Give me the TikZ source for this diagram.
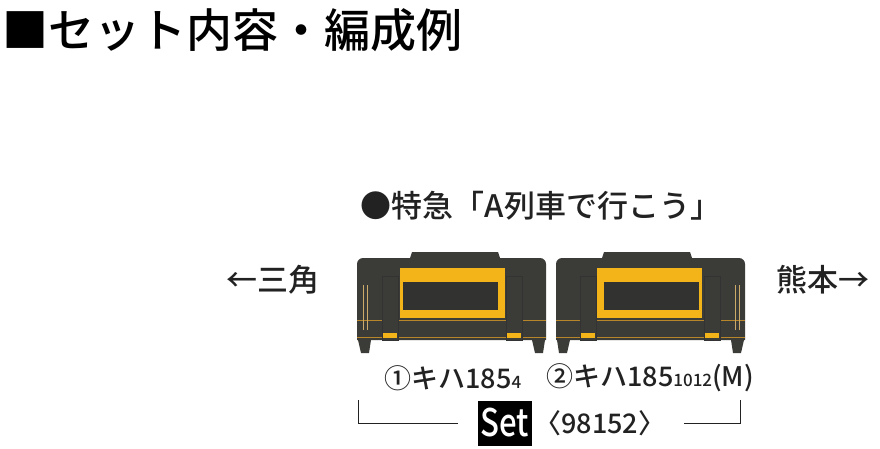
\documentclass[tikz,border=0pt]{standalone}
\usepackage{fontspec}
\setmainfont{Noto Sans CJK JP}
\newfontfamily\medfont{Noto Sans CJK JP Medium}
\usetikzlibrary{positioning}
\definecolor{body}{HTML}{3B3B38}
\definecolor{gold}{HTML}{F2B418}
\definecolor{stripe}{HTML}{B8862A}
\definecolor{txt}{HTML}{222222}
\newcommand{\railcar}[2]{% #1 = left x, #2 = 1 or -1 (mirror)
  \begin{scope}[shift={(#1,0)},xscale=#2]
    \fill[body] (0,340) -- (0,264) to[out=90,in=180] (6,258) -- (183,258) to[out=0,in=90] (189,264) -- (189,340) -- cycle;
    \fill[body] (53,258) -- (55,252) -- (141,252) -- (143,258) -- cycle;
    \fill[body] (1,340) -- (14,340) -- (12,353) -- (4,353) -- cycle;
    \fill[body] (175,340) -- (188,340) -- (186,353) -- (178,353) -- cycle;
    \draw[stripe, line width=1pt] (0,320) -- (189,320);
    \draw[stripe, line width=0.8pt] (0,337) -- (189,337);
    \fill[gold] (43,268) rectangle (148,318);
    \fill[body!85!black] (46,282) rectangle (141,310);
    \foreach \dx in {25,149} {
      \draw[black!80, fill=body] (\dx,276) rectangle ++(16,64);
      \fill[gold] (\dx+1,333) rectangle ++(14,5);
    }
    \foreach \dx in {6,10} \draw[stripe!70, line width=0.5pt] (\dx,285) -- (\dx,330);
  \end{scope}}
\begin{document}
\begin{tikzpicture}[x=1pt,y=-1pt,
  lbl/.style={font=\medfont\fontsize{27}{27}\selectfont, text=txt, inner sep=0pt},
  dir/.style={font=\medfont\fontsize{31}{31}\selectfont, text=txt, inner sep=0pt}]
  \useasboundingbox (0,0) rectangle (880,448);
  \node[anchor=west, inner sep=0pt, font=\medfont\fontsize{46}{46}\selectfont] (title) at (2,30) {■セット内容・編成例};
  \node[dir] (train) at (541,206) {●特急「A列車で行こう」};
  \node[dir] (west) at (273,280) {←三角};
  \node[dir] (east) at (823,280) {熊本→};
  \railcar{357}{1}
  \railcar{745}{-1}
  \node[lbl] (car1) at (453,378) {①キハ185{\fontsize{17}{17}\selectfont 4}};
  \node[lbl] (car2) at (650,378) {②キハ185{\fontsize{17}{17}\selectfont 1012}(M)};
  \node[fill=black, text=white, font=\medfont\fontsize{38}{38}\selectfont, inner sep=0pt, minimum width=54pt, minimum height=45pt] (set) at (505,423) {\scalebox{0.82}[1]{Set}};
  \node[lbl, right=2pt of set] (num) {〈98152〉};
  \coordinate (lt) at (358,400);
  \coordinate (rt) at (740,400);
  \draw[txt, line width=0.8pt] (lt) |- ([xshift=-20pt]set.west |- 0,423);
  \draw[txt, line width=0.8pt] (rt) |- ([xshift=18pt]num.east |- 0,423);
\end{tikzpicture}
\end{document}
